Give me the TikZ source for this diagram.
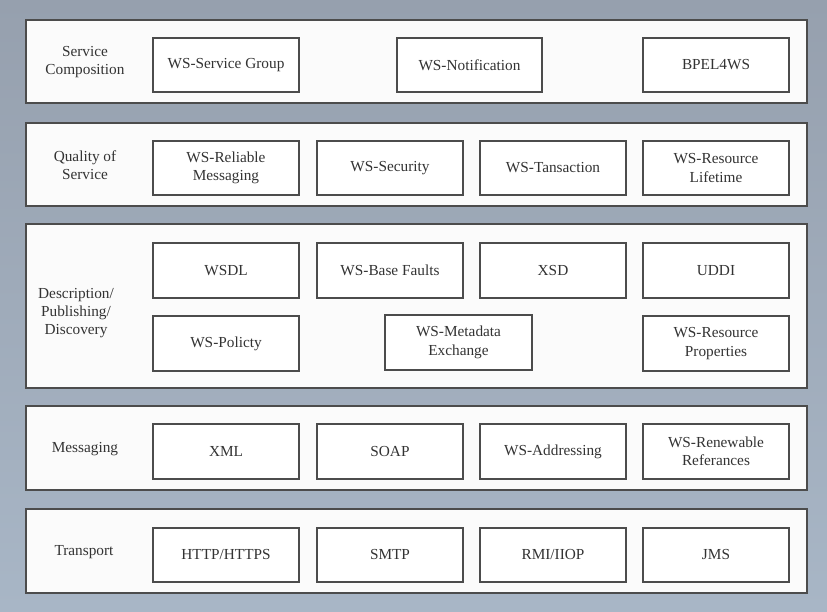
\documentclass[tikz,border=0pt]{standalone}
\usepackage{fontspec}
\setmainfont{Liberation Serif}
\begin{document}
\begin{tikzpicture}[x=1pt,y=-1pt,
  layer/.style={draw=black!70,line width=1.8pt,fill=white!97!gray},
  item/.style={draw=black!70,line width=1.2pt,fill=white,inner sep=0pt,
    text=black!80,font=\fontsize{15.3}{18.5}\selectfont,align=center},
  lab/.style={text=black!80,font=\fontsize{15.3}{18}\selectfont,align=center}]
\shade[top color={rgb,255:red,150;green,160;blue,174},bottom color={rgb,255:red,168;green,182;blue,198}] (0,0) rectangle (827,612);
\useasboundingbox (0,0) rectangle (827,612);
% layers
\path[layer] (26,20) rectangle (807,103);
\path[layer] (26,123) rectangle (807,206);
\path[layer] (26,224) rectangle (807,388);
\path[layer] (26,406) rectangle (807,490);
\path[layer] (26,509) rectangle (807,593);
\newcommand{\itembox}[6]{\node[item,minimum width=#3pt,minimum height=#4pt] (#5) at (#1,#2) {#6};}
% labels
\node[lab] (l1) at (85,62) {Service\\Composition};
\node[lab] (l2) at (85,165) {Quality of\\Service};
\node[lab] (l3) at (76,313) {Description/\\Publishing/\\Discovery};
\node[lab] (l4) at (85,449) {Messaging};
\node[lab] (l5) at (84,552) {Transport};
% layer 1
\itembox{226}{65}{146}{54}{sg}{WS-Service Group}
\itembox{469.5}{65}{145}{54}{wn}{WS-Notification}
\itembox{716}{65}{146}{54}{bp}{BPEL4WS}
% layer 2
\itembox{226}{168}{146}{54}{rm}{WS-Reliable\\Messaging}
\itembox{390}{168}{146}{54}{sec}{WS-Security}
\itembox{553}{168}{146}{54}{tr}{WS-Tansaction}
\itembox{716}{168}{146}{54}{rl}{WS-Resource\\Lifetime}
% layer 3
\itembox{226}{270.5}{146}{55}{wsdl}{WSDL}
\itembox{390}{270.5}{146}{55}{bf}{WS-Base Faults}
\itembox{553}{270.5}{146}{55}{xsd}{XSD}
\itembox{716}{270.5}{146}{55}{uddi}{UDDI}
\itembox{226}{343.5}{146}{55}{pol}{WS-Policty}
\itembox{458.5}{342.5}{147}{55}{me}{WS-Metadata\\Exchange}
\itembox{716}{343.5}{146}{55}{rp}{WS-Resource\\Properties}
% layer 4
\itembox{226}{451.5}{146}{55}{xml}{XML}
\itembox{390}{451.5}{146}{55}{soap}{SOAP}
\itembox{553}{451.5}{146}{55}{addr}{WS-Addressing}
\itembox{716}{451.5}{146}{55}{ren}{WS-Renewable\\Referances}
% layer 5
\itembox{226}{555}{146}{54}{http}{HTTP/HTTPS}
\itembox{390}{555}{146}{54}{smtp}{SMTP}
\itembox{553}{555}{146}{54}{rmi}{RMI/IIOP}
\itembox{716}{555}{146}{54}{jms}{JMS}
\end{tikzpicture}
\end{document}
